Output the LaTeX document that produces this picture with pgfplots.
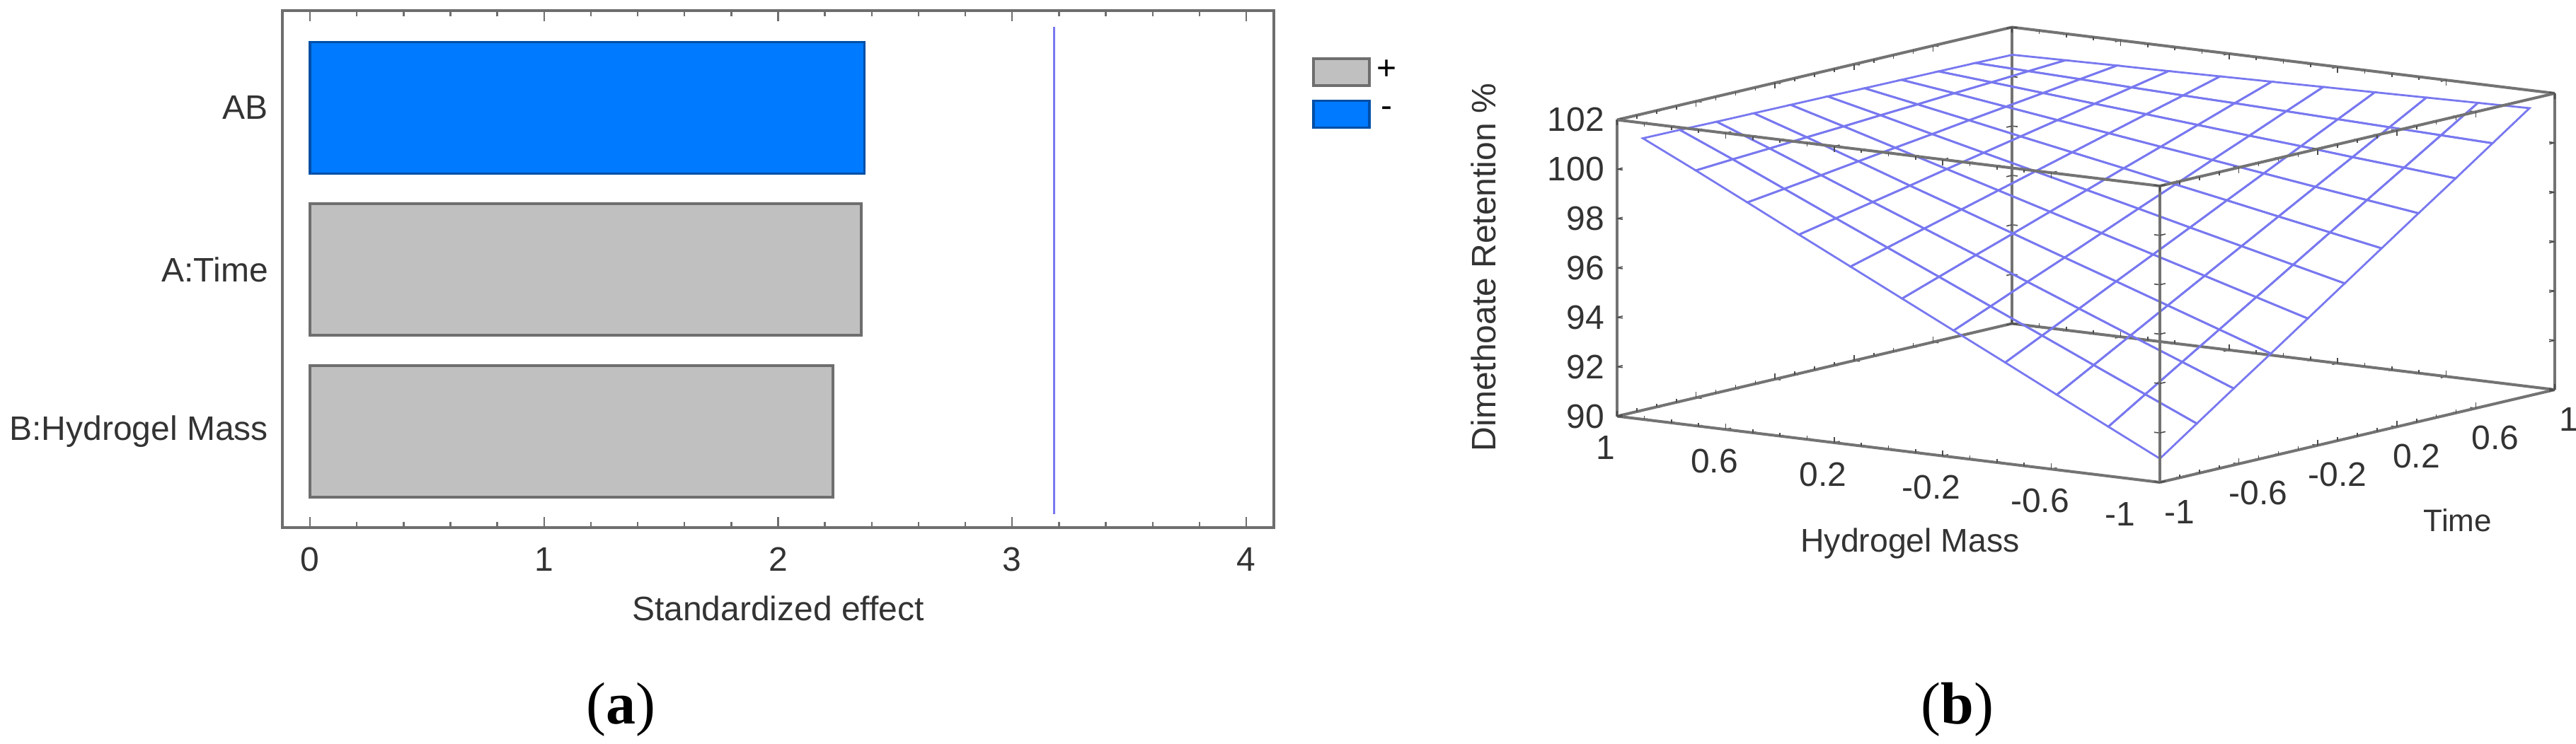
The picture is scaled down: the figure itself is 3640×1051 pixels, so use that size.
\documentclass[border=0pt]{standalone}
\usepackage{pgfplots}
\pgfplotsset{compat=1.18}
\usepackage{fontspec}
\setmainfont{Liberation Sans}
\newfontfamily\capfont{Liberation Serif}
\definecolor{barblue}{RGB}{0,122,255}
\definecolor{bargray}{RGB}{192,192,192}
\definecolor{edgegray}{RGB}{110,110,110}
\definecolor{meshblue}{RGB}{120,120,240}
\pgfplotstableread{
t h z
-1 -1 90.96
-0.813 -1 92.03
-0.626 -1 93.10
-0.438 -1 94.16
-0.251 -1 95.23
-0.064 -1 96.30
0.123 -1 97.37
0.310 -1 98.44
0.498 -1 99.50
0.685 -1 100.57
0.872 -1 101.64
-1 -0.81 92.00
-0.813 -0.81 92.96
-0.626 -0.81 93.92
-0.438 -0.81 94.88
-0.251 -0.81 95.84
-0.064 -0.81 96.80
0.123 -0.81 97.76
0.310 -0.81 98.72
0.498 -0.81 99.68
0.685 -0.81 100.64
0.872 -0.81 101.60
-1 -0.62 93.04
-0.813 -0.62 93.89
-0.626 -0.62 94.74
-0.438 -0.62 95.60
-0.251 -0.62 96.45
-0.064 -0.62 97.30
0.123 -0.62 98.15
0.310 -0.62 99.00
0.498 -0.62 99.85
0.685 -0.62 100.71
0.872 -0.62 101.56
-1 -0.43 94.09
-0.813 -0.43 94.83
-0.626 -0.43 95.57
-0.438 -0.43 96.32
-0.251 -0.43 97.06
-0.064 -0.43 97.80
0.123 -0.43 98.55
0.310 -0.43 99.29
0.498 -0.43 100.04
0.685 -0.43 100.78
0.872 -0.43 101.52
-1 -0.24 95.13
-0.813 -0.24 95.76
-0.626 -0.24 96.40
-0.438 -0.24 97.03
-0.251 -0.24 97.67
-0.064 -0.24 98.31
0.123 -0.24 98.94
0.310 -0.24 99.58
0.498 -0.24 100.21
0.685 -0.24 100.85
0.872 -0.24 101.48
-1 -0.05 96.17
-0.813 -0.05 96.70
-0.626 -0.05 97.23
-0.438 -0.05 97.75
-0.251 -0.05 98.28
-0.064 -0.05 98.81
0.123 -0.05 99.34
0.310 -0.05 99.86
0.498 -0.05 100.39
0.685 -0.05 100.92
0.872 -0.05 101.44
-1 0.14 97.21
-0.813 0.14 97.63
-0.626 0.14 98.05
-0.438 0.14 98.47
-0.251 0.14 98.89
-0.064 0.14 99.31
0.123 0.14 99.73
0.310 0.14 100.15
0.498 0.14 100.57
0.685 0.14 100.98
0.872 0.14 101.40
-1 0.33 98.25
-0.813 0.33 98.56
-0.626 0.33 98.87
-0.438 0.33 99.18
-0.251 0.33 99.50
-0.064 0.33 99.81
0.123 0.33 100.12
0.310 0.33 100.43
0.498 0.33 100.74
0.685 0.33 101.05
0.872 0.33 101.36
-1 0.52 99.30
-0.813 0.52 99.50
-0.626 0.52 99.70
-0.438 0.52 99.91
-0.251 0.52 100.11
-0.064 0.52 100.31
0.123 0.52 100.52
0.310 0.52 100.72
0.498 0.52 100.92
0.685 0.52 101.13
0.872 0.52 101.33
-1 0.71 100.34
-0.813 0.71 100.44
-0.626 0.71 100.53
-0.438 0.71 100.63
-0.251 0.71 100.72
-0.064 0.71 100.82
0.123 0.71 100.91
0.310 0.71 101.01
0.498 0.71 101.10
0.685 0.71 101.20
0.872 0.71 101.29
-1 0.905 101.38
-0.813 0.905 101.37
-0.626 0.905 101.35
-0.438 0.905 101.34
-0.251 0.905 101.33
-0.064 0.905 101.32
0.123 0.905 101.30
0.310 0.905 101.29
0.498 0.905 101.28
0.685 0.905 101.27
0.872 0.905 101.25
}\surfdata
\begin{document}
\begin{tikzpicture}[x=0.25pt,y=0.25pt]
\path[use as bounding box] (0,0) rectangle (3640,1051);
% panel a
\begin{axis}[
  at={(99.75pt,76.25pt)},anchor=south west,
  scale only axis,width=350.25pt,height=182.75pt,
  xbar,bar shift=0pt,bar width=46.5pt,
  xmin=-0.118,xmax=4.118,ymin=-0.592,ymax=2.6,
  xtick={0,1,2,3,4},minor x tick num=4,
  ytick={0,1,2},yticklabels={B:Hydrogel Mass,A:Time,AB},
  y tick style={draw=none},
  tick align=inside,xtick pos=both,
  major tick length=3.75pt,minor tick length=2pt,
  x tick style={edgegray,line width=0.6pt},
  axis line style={edgegray,line width=1.1pt},
  tick label style={font=\fontsize{12}{14}\selectfont,text=black!80},
  x tick label style={yshift=-3.5pt},
  y tick label style={xshift=-1.5pt},
  /pgf/number format/assume math mode=true,
  xlabel={Standardized effect},
  xlabel style={at={(axis description cs:0.5,-0.156)},anchor=center,font=\fontsize{12}{14}\selectfont,text=black!80},
  legend style={at={(1.038,0.916)},anchor=north west,draw=none,fill=none,
    inner sep=0pt,font=\fontsize{12}{14}\selectfont,row sep=3.5pt},
  legend image code/.code={\draw[#1,xbar=0pt] (0pt,-4.75pt) rectangle (19.75pt,4.75pt);},
  /tikz/every even column/.append style={column sep=5.5pt},
]
\addplot[fill=bargray,draw=edgegray,line width=1pt] coordinates {(2.355,1) (2.233,0)};
\addplot[fill=barblue,draw=black!35!barblue,line width=0.8pt] coordinates {(2.37,2)};
\addplot[meshblue,line width=0.7pt,sharp plot,forget plot] coordinates {(3.18,-0.509) (3.18,2.5)};
\legend{+,-}
\end{axis}
% panel b
\begin{axis}[
  at={(736.875pt,120.31pt)},anchor=origin,
  x={(69.75pt,16.375pt)},y={(-95.875pt,11.69pt)},z={(0pt,8.73pt)},
  xmin=-1,xmax=1,ymin=-1,ymax=1,zmin=90,zmax=102,
  axis lines=box,3d box=complete,
  xtick={-1,-0.6,-0.2,0.2,0.6},ytick={-0.6,-0.2,0.2,0.6,1},
  extra x ticks={1},
  extra x tick style={tick label style={xshift=-2pt}},
  extra y ticks={-1},
  extra y tick style={tick label style={xshift=-10pt}},
  ztick={90,92,94,96,98,100,102},
  minor x tick num=3,minor y tick num=3,
  tick align=inside,
  major tick length=2pt,minor tick length=1.2pt,
  xticklabel pos=lower,yticklabel pos=lower,
  tick style={black!70,line width=0.4pt},
  axis line style={black!55,line width=1pt},
  tick label style={font=\fontsize{12}{14}\selectfont,text=black!80},
  /pgf/number format/assume math mode=true,
  x tick label style={anchor=center,xshift=6.9pt,yshift=-10.4pt},
  y tick label style={anchor=center,xshift=-4pt,yshift=-11.2pt},
  z tick label style={anchor=east,xshift=-1pt},
  colormap={single}{color=(meshblue) color=(meshblue)},
]
\addplot3[mesh,mesh/rows=11,mesh/cols=11,line width=0.7pt] table[x=t,y=h,z=z] {\surfdata};
\end{axis}
% labels and captions
\node[font=\fontsize{11.6}{14}\selectfont,text=black!80] at (2699,282) {Hydrogel Mass};
\node[font=\fontsize{11}{14}\selectfont,text=black!80] at (3473,315) {Time};
\node[font=\fontsize{12}{14}\selectfont,text=black!80,rotate=90] at (2096,673) {Dimethoate Retention \%};
\node[font=\capfont\fontsize{21}{24}\selectfont] at (877,48) {(\textbf{a})};
\node[font=\capfont\fontsize{21}{24}\selectfont] at (2766,48) {(\textbf{b})};
\end{tikzpicture}
\end{document}
